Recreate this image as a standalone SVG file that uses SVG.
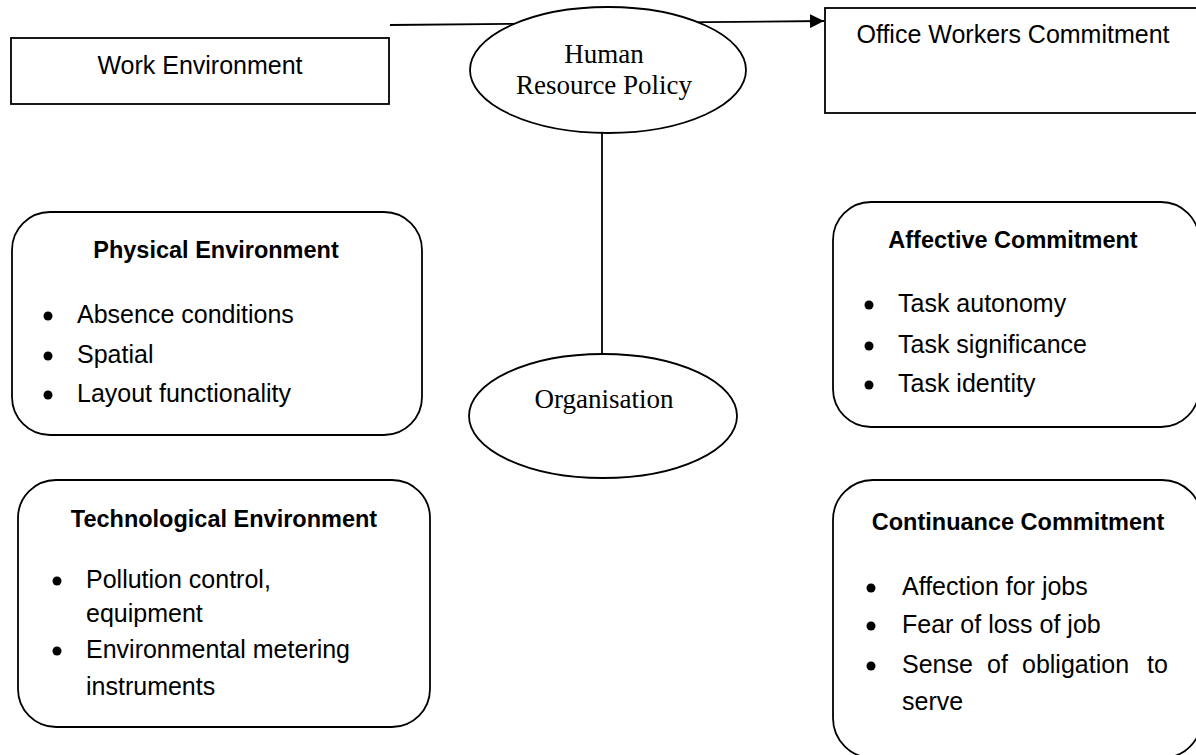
<svg xmlns="http://www.w3.org/2000/svg" width="1196" height="755" viewBox="0 0 1196 755">
<style>
.box{fill:#fff;stroke:#000;stroke-width:1.8}
.conn{fill:none;stroke:#000;stroke-width:1.8}
.sans{font-family:"Liberation Sans",Arial,sans-serif;font-size:25px;fill:#000}
.bold{font-family:"Liberation Sans",Arial,sans-serif;font-size:23.5px;font-weight:bold;fill:#000}
.serif{font-family:"Liberation Serif","Times New Roman",serif;font-size:27px;fill:#000}
.mid{text-anchor:middle}
.dot{fill:#000}
</style>
<defs>
<marker id="arrow" markerUnits="userSpaceOnUse" markerWidth="16" markerHeight="14" refX="14" refY="7" orient="auto">
<path d="M0,0 L14,7 L0,14 Z" fill="#000"/>
</marker>
</defs>
<rect width="1196" height="755" fill="#fff"/>
<g id="connectors">
<line class="conn" x1="390" y1="25" x2="824" y2="21" marker-end="url(#arrow)"/>
<line class="conn" x1="602" y1="133" x2="602" y2="354"/>
</g>
<g id="work-environment">
<rect class="box" x="11" y="38" width="378" height="66"/>
<text class="sans mid" x="200" y="74">Work Environment</text>
</g>
<g id="hr-policy">
<ellipse class="box" cx="608" cy="70" rx="138" ry="63"/>
<text class="serif mid" x="604" y="63">Human</text>
<text class="serif mid" x="604" y="94">Resource Policy</text>
</g>
<g id="office-workers">
<rect class="box" x="825" y="8" width="376" height="105"/>
<text class="sans mid" x="1013" y="43">Office Workers Commitment</text>
</g>
<g id="organisation">
<ellipse class="box" cx="603" cy="416" rx="134" ry="62"/>
<text class="serif mid" x="604" y="408">Organisation</text>
</g>
<g id="physical-environment">
<rect class="box" x="12" y="212" width="410" height="223" rx="38" ry="38"/>
<text class="bold mid" x="216" y="258">Physical Environment</text>
<circle class="dot" cx="48" cy="316" r="4.5"/>
<text class="sans" x="77" y="323">Absence conditions</text>
<circle class="dot" cx="48" cy="356" r="4.5"/>
<text class="sans" x="77" y="363">Spatial</text>
<circle class="dot" cx="48" cy="395" r="4.5"/>
<text class="sans" x="77" y="402">Layout functionality</text>
</g>
<g id="technological-environment">
<rect class="box" x="18" y="480" width="412" height="247" rx="38" ry="38"/>
<text class="bold mid" x="224" y="527">Technological Environment</text>
<circle class="dot" cx="57" cy="581" r="4.5"/>
<text class="sans" x="86" y="588">Pollution control,</text>
<text class="sans" x="86" y="622">equipment</text>
<circle class="dot" cx="57" cy="651" r="4.5"/>
<text class="sans" x="86" y="658">Environmental metering</text>
<text class="sans" x="86" y="695">instruments</text>
</g>
<g id="affective-commitment">
<rect class="box" x="833" y="202" width="366" height="225" rx="38" ry="38"/>
<text class="bold mid" x="1013" y="248">Affective Commitment</text>
<circle class="dot" cx="869" cy="305" r="4.5"/>
<text class="sans" x="898" y="312">Task autonomy</text>
<circle class="dot" cx="869" cy="346" r="4.5"/>
<text class="sans" x="898" y="353">Task significance</text>
<circle class="dot" cx="869" cy="385" r="4.5"/>
<text class="sans" x="898" y="392">Task identity</text>
</g>
<g id="continuance-commitment">
<rect class="box" x="833" y="480" width="369" height="278" rx="40" ry="40"/>
<text class="bold mid" x="1018" y="530">Continuance Commitment</text>
<circle class="dot" cx="871" cy="588" r="4.5"/>
<text class="sans" x="902" y="595">Affection for jobs</text>
<circle class="dot" cx="871" cy="626" r="4.5"/>
<text class="sans" x="902" y="633">Fear of loss of job</text>
<circle class="dot" cx="871" cy="666" r="4.5"/>
<text class="sans" y="673"><tspan x="902">Sense</tspan><tspan x="987">of</tspan><tspan x="1022">obligation</tspan><tspan x="1147">to</tspan></text>
<text class="sans" x="902" y="710">serve</text>
</g>
</svg>
